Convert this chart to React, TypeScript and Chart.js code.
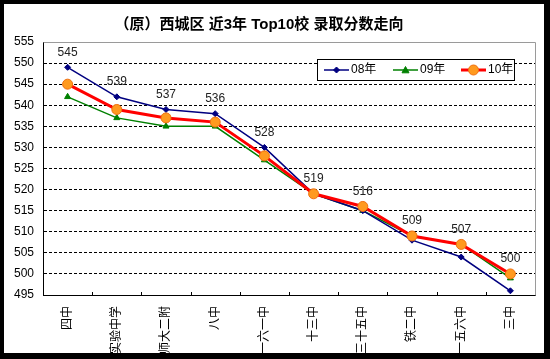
import React, { useEffect, useRef } from 'react';
import { Chart, registerables } from 'chart.js';

Chart.register(...registerables);

const TITLE = '（原）西城区 近3年 Top10校 录取分数走向';
const schools = ['四中', '实验中学', '师大二附', '八中', '一六一中', '十三中', '三十五中', '铁二中', '一五六中', '三中'];
const seriesNames = ['08年', '09年', '10年'];
const scores08 = [549, 542, 539, 538, 530, 519, 515, 508, 504, 496];
const scores09 = [542, 537, 535, 535, 527, 519, 515, 509, 507, 499];
const scores10 = [545, 539, 537, 536, 528, 519, 516, 509, 507, 500];
const yMin = 495;
const yMax = 555;
const yStep = 5;

const FONT = '"Liberation Sans", Arial, "Noto Sans CJK SC", sans-serif';

const colors = {
  s08: '#000080',
  s09: '#008000',
  s10: '#FF0000',
  s10Point: '#FF9A1F',
  s10PointBorder: '#F07010',
};

function drawMarker(ctx: CanvasRenderingContext2D, style: string, x: number, y: number, r: number, fill: string, stroke: string) {
  ctx.save();
  ctx.fillStyle = fill;
  ctx.strokeStyle = stroke;
  ctx.lineWidth = 1;
  ctx.beginPath();
  if (style === 'rectRot') {
    ctx.moveTo(x, y - r);
    ctx.lineTo(x + r, y);
    ctx.lineTo(x, y + r);
    ctx.lineTo(x - r, y);
    ctx.closePath();
  } else if (style === 'triangle') {
    ctx.moveTo(x, y - r);
    ctx.lineTo(x + r, y + r * 0.8);
    ctx.lineTo(x - r, y + r * 0.8);
    ctx.closePath();
  } else {
    ctx.arc(x, y, r, 0, Math.PI * 2);
  }
  ctx.fill();
  ctx.stroke();
  ctx.restore();
}

const framePlugin = {
  id: 'frame',
  beforeDraw(chart: any) {
    const { ctx, width, height } = chart;
    ctx.save();
    ctx.fillStyle = '#000';
    ctx.fillRect(0, 0, width, height);
    ctx.fillStyle = '#fff';
    ctx.fillRect(4, 4, width - 10, height - 10);
    ctx.restore();
  },
  afterDraw(chart: any) {
    const { ctx, chartArea } = chart;
    const { left, right, top, bottom } = chartArea;
    ctx.save();
    // top and right plot border in gray
    ctx.strokeStyle = '#9a9a9a';
    ctx.lineWidth = 1;
    ctx.beginPath();
    ctx.moveTo(Math.round(left) + 0.5, Math.round(top) + 0.5);
    ctx.lineTo(Math.round(right) + 0.5, Math.round(top) + 0.5);
    ctx.lineTo(Math.round(right) + 0.5, Math.round(bottom) + 0.5);
    ctx.stroke();
    // x tick marks at category boundaries (inside)
    const xs = chart.scales.x;
    ctx.strokeStyle = '#000';
    ctx.beginPath();
    for (let i = 1; i < schools.length; i++) {
      const xp = Math.round((xs.getPixelForValue(i - 1) + xs.getPixelForValue(i)) / 2) + 0.5;
      ctx.moveTo(xp, Math.round(bottom) - 3);
      ctx.lineTo(xp, Math.round(bottom));
    }
    ctx.stroke();
    // title
    ctx.fillStyle = '#000';
    ctx.font = 'bold 15px ' + FONT;
    ctx.textAlign = 'center';
    ctx.textBaseline = 'middle';
    ctx.fillText(TITLE, 259, 25);
    // legend
    const lx = 317, ly = 59, lw = 197, lh = 21;
    ctx.fillStyle = '#fff';
    ctx.fillRect(lx, ly, lw, lh);
    ctx.strokeStyle = '#000';
    ctx.strokeRect(lx + 0.5, ly + 0.5, lw, lh);
    const cy = ly + lh / 2 + 0.5;
    const items = [
      { name: seriesNames[0], color: colors.s08, style: 'rectRot', r: 3, fill: colors.s08, stroke: colors.s08, lw: 1.5, x0: 324 },
      { name: seriesNames[1], color: colors.s09, style: 'triangle', r: 3.5, fill: colors.s09, stroke: colors.s09, lw: 1.5, x0: 393 },
      { name: seriesNames[2], color: colors.s10, style: 'circle', r: 5, fill: colors.s10Point, stroke: colors.s10PointBorder, lw: 3, x0: 461 },
    ];
    items.forEach((it) => {
      ctx.strokeStyle = it.color;
      ctx.lineWidth = it.lw;
      ctx.beginPath();
      ctx.moveTo(it.x0, cy);
      ctx.lineTo(it.x0 + 25, cy);
      ctx.stroke();
      drawMarker(ctx, it.style, it.x0 + 12.5, cy, it.r, it.fill, it.stroke);
      ctx.fillStyle = '#000';
      ctx.font = '12px ' + FONT;
      ctx.textAlign = 'left';
      ctx.textBaseline = 'middle';
      ctx.fillText(it.name, it.x0 + 27, cy);
    });
    ctx.restore();
  },
  afterDatasetsDraw(chart: any) {
    const { ctx } = chart;
    const xs = chart.scales.x;
    const ys = chart.scales.y;
    ctx.save();
    ctx.fillStyle = '#222';
    ctx.font = '12px ' + FONT;
    ctx.textAlign = 'center';
    ctx.textBaseline = 'middle';
    scores10.forEach((v, i) => {
      const top = Math.max(scores08[i], scores09[i], scores10[i]);
      const x = xs.getPixelForValue(i);
      const y = ys.getPixelForValue(top) - 15;
      ctx.fillText(String(v), x, y);
    });
    ctx.restore();
  },
};

export default function App() {
  const ref = useRef<HTMLCanvasElement>(null);
  useEffect(() => {
    if (!ref.current) return;
    const chart = new Chart(ref.current, {
      type: 'line',
      data: {
        labels: schools,
        datasets: [
          {
            label: seriesNames[0],
            data: scores08,
            borderColor: colors.s08,
            backgroundColor: colors.s08,
            borderWidth: 1.5,
            pointStyle: 'rectRot',
            pointRadius: 3,
            pointBackgroundColor: colors.s08,
            pointBorderColor: colors.s08,
            pointBorderWidth: 1,
            tension: 0,
            order: 1,
          },
          {
            label: seriesNames[1],
            data: scores09,
            borderColor: colors.s09,
            backgroundColor: colors.s09,
            borderWidth: 1.5,
            pointStyle: 'triangle',
            pointRadius: 3.5,
            pointBackgroundColor: colors.s09,
            pointBorderColor: colors.s09,
            pointBorderWidth: 1,
            tension: 0,
            order: 2,
          },
          {
            label: seriesNames[2],
            data: scores10,
            borderColor: colors.s10,
            backgroundColor: colors.s10Point,
            borderWidth: 3,
            pointStyle: 'circle',
            pointRadius: 5,
            pointBackgroundColor: colors.s10Point,
            pointBorderColor: colors.s10PointBorder,
            pointBorderWidth: 1,
            tension: 0,
            order: 0,
          },
        ],
      },
      options: {
        responsive: false,
        animation: false,
        events: [],
        layout: { padding: { left: 0, top: 42, right: 15, bottom: 0 } },
        plugins: {
          legend: { display: false },
          title: { display: false },
          tooltip: { enabled: false },
        },
        scales: {
          x: {
            type: 'category',
            offset: true,
            grid: { display: false, drawTicks: false, offset: true },
            border: { display: true, color: '#000', width: 1 },
            ticks: {
              autoSkip: false,
              minRotation: 90,
              maxRotation: 90,
              padding: 11,
              color: '#000',
              font: { size: 12, family: FONT },
            },
            afterFit: (scale: any) => {
              scale.height = 64;
            },
          },
          y: {
            min: yMin,
            max: yMax,
            ticks: {
              stepSize: yStep,
              padding: 9,
              color: '#000',
              font: { size: 12, family: FONT },
            },
            grid: {
              drawTicks: false,
              lineWidth: 1,
              color: (ctx: any) =>
                ctx.tick && (ctx.tick.value === yMin || ctx.tick.value === yMax) ? 'rgba(0,0,0,0)' : '#000',
            },
            border: { display: true, color: '#000', width: 1, dash: [3, 2] },
            afterFit: (scale: any) => {
              scale.width = 43;
            },
          },
        },
      },
      plugins: [framePlugin],
    });
    return () => chart.destroy();
  }, []);
  return (
    <div style={{ position: 'fixed', left: 0, top: 0, width: 550, height: 359 }}>
      <canvas ref={ref} width={550} height={359} style={{ display: 'block', width: 550, height: 359 }} />
    </div>
  );
}
